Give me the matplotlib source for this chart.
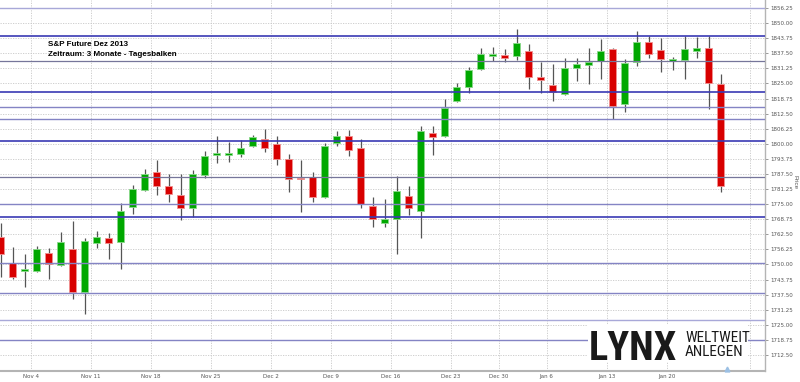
import numpy as np
import matplotlib
matplotlib.use("Agg")
import matplotlib.pyplot as plt
from matplotlib import font_manager
from matplotlib.patches import Rectangle
from matplotlib.ticker import FixedLocator, FormatStrFormatter

# daily bars; index 0 = Oct 30 2013, last bar = Jan 24 2014
opens = [1761.4, 1750.6, 1747.4, 1747.3, 1754.8, 1749.8, 1756.4, 1738.6, 1758.9, 1761.0,
         1759.3, 1773.8, 1780.9, 1788.3, 1782.5, 1778.8, 1773.4, 1787.1, 1795.5, 1795.4,
         1795.8, 1799.1, 1802.0, 1799.9, 1793.6, 1785.8, 1786.1, 1777.8, 1800.3, 1803.2,
         1798.4, 1774.4, 1767.3, 1769.0, 1778.5, 1772.3, 1804.6, 1803.2, 1817.7, 1823.7,
         1831.0, 1836.4, 1836.8, 1836.4, 1838.6, 1827.8, 1824.5, 1820.5, 1831.5, 1832.6,
         1834.3, 1839.3, 1816.5, 1834.0, 1842.3, 1838.9, 1834.4, 1834.7, 1838.4, 1839.6,
         1824.6]
closes = [1754.3, 1744.8, 1748.3, 1756.4, 1750.2, 1759.3, 1738.6, 1759.7, 1761.4, 1758.9,
          1772.2, 1781.3, 1787.5, 1782.5, 1779.2, 1773.4, 1787.5, 1794.9, 1796.3, 1796.2,
          1798.4, 1802.8, 1798.4, 1793.8, 1785.5, 1785.4, 1777.8, 1799.1, 1803.2, 1797.4,
          1775.0, 1768.9, 1768.7, 1780.4, 1773.5, 1805.3, 1802.7, 1815.0, 1823.7, 1830.6,
          1837.2, 1836.8, 1835.7, 1841.9, 1827.5, 1826.4, 1821.6, 1831.3, 1833.1, 1834.0,
          1838.4, 1815.7, 1833.6, 1842.3, 1837.1, 1835.1, 1835.0, 1839.1, 1839.6, 1825.1,
          1782.5]
highs = [1767.2, 1757.2, 1754.3, 1757.7, 1756.8, 1763.5, 1768.0, 1761.0, 1763.9, 1763.0,
         1775.5, 1782.9, 1789.6, 1793.3, 1787.5, 1787.5, 1789.1, 1797.0, 1803.2, 1800.7,
         1801.6, 1803.6, 1806.1, 1803.2, 1795.8, 1793.3, 1788.4, 1800.2, 1805.4, 1805.9,
         1801.9, 1778.1, 1777.1, 1786.7, 1782.6, 1807.4, 1807.4, 1818.6, 1825.1, 1831.8,
         1839.7, 1840.1, 1839.1, 1847.4, 1841.3, 1834.0, 1833.1, 1835.4, 1835.7, 1839.8,
         1843.4, 1839.5, 1835.0, 1846.7, 1844.7, 1843.7, 1836.1, 1844.7, 1844.4, 1844.7,
         1828.9]
lows = [1744.8, 1744.0, 1740.7, 1747.0, 1744.0, 1749.5, 1735.7, 1729.5, 1756.8, 1752.3,
        1748.1, 1770.9, 1780.5, 1778.8, 1775.9, 1768.4, 1769.7, 1785.8, 1792.0, 1792.5,
        1794.5, 1798.8, 1796.7, 1791.3, 1780.0, 1771.9, 1775.8, 1777.5, 1798.9, 1794.9,
        1773.5, 1765.7, 1765.7, 1754.2, 1770.5, 1760.9, 1795.4, 1802.9, 1817.4, 1821.2,
        1830.6, 1834.3, 1834.0, 1834.7, 1822.6, 1821.2, 1817.9, 1820.2, 1826.0, 1824.8,
        1826.8, 1810.1, 1813.3, 1832.2, 1835.4, 1829.9, 1830.6, 1826.8, 1835.4, 1814.3,
        1780.2]

# horizontal marker lines drawn across the chart
level_prices = [1856.25, 1844.5, 1834.25, 1821.5, 1815.25, 1810.25, 1801.0,
                1786.25, 1775.25, 1769.75, 1750.75, 1738.0, 1727.0, 1718.75]
level_kinds = ["light", "blue", "gray", "blue", "purple", "purple", "blue",
               "gray", "purple", "blue", "purple", "purple", "light", "purple"]

tick_days = [3, 8, 13, 18, 23, 28, 33, 38, 42, 46, 51, 56]
tick_labels = ["Nov 4", "Nov 11", "Nov 18", "Nov 25", "Dec 2", "Dec 9", "Dec 16",
               "Dec 23", "Dec 30", "Jan 6", "Jan 13", "Jan 20"]


def pick_font(candidates):
    names = {f.name for f in font_manager.fontManager.ttflist}
    for c in candidates:
        if c in names:
            return c
    return "DejaVu Sans"


narrow = pick_font(["Liberation Sans Narrow", "Roboto Condensed", "Liberation Sans"])
sans = pick_font(["Liberation Sans", "DejaVu Sans"])

level_style = {
    "blue": ("#3a3ab4", 1.2),
    "purple": ("#8484c4", 1.0),
    "gray": ("#76769a", 0.9),
    "light": ("#a8a8d8", 1.0),
}

fig = plt.figure(figsize=(8, 3.82), dpi=100)
ax = fig.add_axes([0, 11 / 382, 765 / 800, 371 / 382])

x = np.arange(len(opens))
o = np.array(opens)
c = np.array(closes)
up = c >= o
body_bottom = np.minimum(o, c)
body_height = np.maximum(np.abs(c - o), 0.6)

ax.vlines(x, lows, highs, color="#555555", linewidth=0.9, zorder=3)
ax.bar(x[up], body_height[up], bottom=body_bottom[up], width=0.58,
       color="#00a800", edgecolor="#8ad88a", linewidth=0.6, zorder=4)
ax.bar(x[~up], body_height[~up], bottom=body_bottom[~up], width=0.58,
       color="#d80000", edgecolor="#f09090", linewidth=0.6, zorder=4)

for p, kind in zip(level_prices, level_kinds):
    col, lw = level_style[kind]
    ax.axhline(p, color=col, linewidth=lw, zorder=5)

ax.set_xlim(-0.058, 63.69)
ax.set_ylim(1705.88, 1859.56)

# axes styling
ax.yaxis.tick_right()
ax.yaxis.set_major_locator(FixedLocator(np.arange(1712.5, 1856.3, 6.25)))
ax.yaxis.set_major_formatter(FormatStrFormatter("%.2f"))
ax.tick_params(axis="y", length=2.5, width=0.6, color="#888888", pad=1.5,
               labelsize=4, labelcolor="#555555")
grid_x = [d - 0.5 for d in tick_days] + [62.44]
ax.xaxis.set_major_locator(FixedLocator(grid_x))
ax.set_xticklabels(tick_labels + [""])
ax.tick_params(axis="x", length=0, pad=2.5, labelsize=4, labelcolor="#555555")
ax.grid(True, color="#c8c8c8", linewidth=0.6, linestyle=(0, (1.5, 1.5)), zorder=0)
ax.set_axisbelow(True)
for s in ["top", "left"]:
    ax.spines[s].set_visible(False)
ax.spines["bottom"].set_color("#b4b4b4")
ax.spines["bottom"].set_linewidth(1.5)
ax.spines["right"].set_color("#b4b4b4")
ax.spines["right"].set_linewidth(1.0)

ax.plot([60.5], [1706.6], marker="^", markersize=3.5, color="#9cc0e4",
        clip_on=False, zorder=6)

fig.text(795 / 800, 1 - 182 / 382, "Price", rotation=270, ha="center", va="center",
         fontsize=4.5, color="#555555", family=sans)

fig.text(48 / 800, 1 - 44 / 382, "S&P Future Dez 2013", fontsize=5.8,
         fontweight="bold", family=sans, va="center", ha="left")
fig.text(48 / 800, 1 - 54 / 382, "Zeitraum: 3 Monate - Tagesbalken", fontsize=5.8,
         fontweight="bold", family=sans, va="center", ha="left")

# LYNX logo block
fig.patches.append(Rectangle((588 / 800, 1 - 362 / 382), 160 / 800, 38 / 382,
                             transform=fig.transFigure, facecolor="white",
                             edgecolor="none", zorder=1))
fig.text(589 / 800, 1 - 360 / 382, "LYNX", fontsize=29, fontweight="bold",
         family=narrow, color="#1a1a1a", va="baseline", ha="left", zorder=2)
fig.text(685 / 800, 1 - 342 / 382, "WELTWEIT", fontsize=11,
         family=narrow, color="#1a1a1a", va="baseline", ha="left", zorder=2)
fig.text(685 / 800, 1 - 355.5 / 382, "ANLEGEN", fontsize=11,
         family=narrow, color="#1a1a1a", va="baseline", ha="left", zorder=2)

fig.savefig("out.png", dpi=100)
